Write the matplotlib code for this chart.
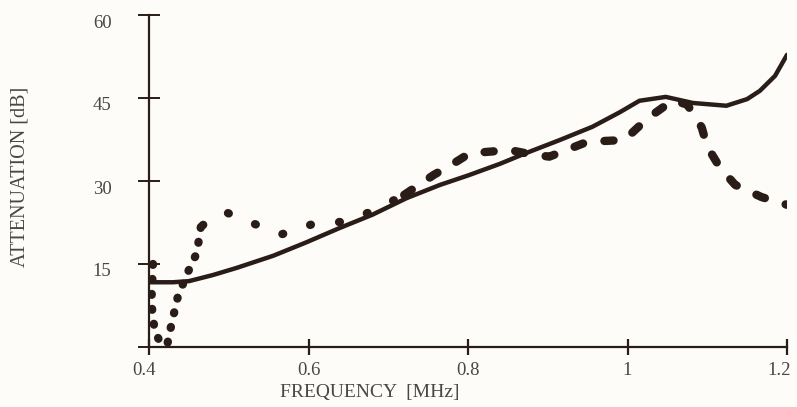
import matplotlib
matplotlib.use('Agg')
import matplotlib.pyplot as plt
import matplotlib.transforms as mtransforms

# solid curve
freq_solid = [0.40, 0.43, 0.45, 0.48, 0.51, 0.556, 0.597, 0.639, 0.68, 0.723, 0.765,
              0.80, 0.84, 0.872, 0.915, 0.956, 0.99, 1.015, 1.048, 1.082, 1.124,
              1.15, 1.166, 1.185, 1.20]
att_solid = [11.7, 11.7, 11.9, 13.0, 14.3, 16.5, 18.9, 21.5, 23.9, 26.9, 29.3,
             31.0, 33.1, 35.0, 37.4, 39.8, 42.4, 44.5, 45.2, 44.1, 43.6,
             44.8, 46.3, 49.0, 52.8]

# dashed curve, in three stretches drawn with different dash spacing
freq_dash_a = [0.405, 0.403, 0.407, 0.415, 0.423, 0.428, 0.436, 0.447, 0.460, 0.465]
att_dash_a = [15.0, 8.0, 3.0, 0.5, 0.5, 4.0, 9.0, 13.0, 17.0, 21.7]

freq_dash_b = [0.465, 0.480, 0.499, 0.533, 0.567, 0.605, 0.640, 0.680, 0.720]
att_dash_b = [21.7, 23.6, 24.2, 22.2, 20.4, 22.2, 22.6, 24.5, 27.5]

freq_dash_c = [0.720, 0.757, 0.780, 0.802, 0.852, 0.880, 0.902, 0.950, 0.996,
               1.025, 1.057, 1.075, 1.093, 1.100, 1.116, 1.135, 1.168, 1.200]
att_dash_c = [27.5, 31.1, 33.0, 35.0, 35.6, 34.8, 34.4, 37.1, 37.4,
              41.3, 44.6, 43.8, 39.7, 36.2, 32.4, 29.3, 27.1, 25.7]

x_ticks = [0.4, 0.6, 0.8, 1.0, 1.2]
x_labels = ['0.4', '0.6', '0.8', '1', '1.2']
y_ticks = [0, 15, 30, 45, 60]
y_labels = ['', '15', '30', '45', '60']

ink = '#2a1c17'
txt = '#4a4646'
bg = '#fdfcf8'

plt.rcParams['font.family'] = ['Liberation Serif', 'DejaVu Serif']

fig = plt.figure(figsize=(7.97, 4.07), dpi=100, facecolor=bg)
ax = fig.add_axes([149 / 797, 60 / 407, 638 / 797, 332 / 407])
ax.set_facecolor(bg)

ax.plot(freq_solid, att_solid, color=ink, lw=3.2, solid_capstyle='round')
ax.plot(freq_dash_a, att_dash_a, color=ink, lw=6.0, linestyle=(0, (0.1, 1.7)),
        dash_capstyle='round')
ax.plot(freq_dash_b, att_dash_b, color=ink, lw=6.0, linestyle=(3.22, (0.1, 3.4)),
        dash_capstyle='round')
ax.plot(freq_dash_c, att_dash_c, color=ink, lw=6.0, linestyle=(0, (1.1, 2.6)),
        dash_capstyle='round')

ax.set_xlim(0.4, 1.2)
ax.set_ylim(0, 60)
for s in ['top', 'right']:
    ax.spines[s].set_visible(False)
for s in ['left', 'bottom']:
    ax.spines[s].set_color(ink)
    ax.spines[s].set_linewidth(1.6)

ax.set_xticks(x_ticks)
ax.set_xticklabels(x_labels)
ax.set_yticks(y_ticks)
ax.set_yticklabels(y_labels)
ax.tick_params(axis='y', direction='inout', length=16, width=1.4, color=ink,
               labelsize=13.5, labelcolor=txt, pad=19)
ax.tick_params(axis='x', direction='inout', length=12, width=1.6, color=ink,
               labelsize=13.5, labelcolor=txt, pad=5)

shift = mtransforms.ScaledTranslation(0, -6 / 100, fig.dpi_scale_trans)
for lab in ax.get_yticklabels():
    lab.set_transform(lab.get_transform() + shift)
xlabs = ax.get_xticklabels()
xlabs[0].set_transform(xlabs[0].get_transform()
                       + mtransforms.ScaledTranslation(-5 / 100, 0, fig.dpi_scale_trans))
xlabs[-1].set_transform(xlabs[-1].get_transform()
                        + mtransforms.ScaledTranslation(-8 / 100, 0, fig.dpi_scale_trans))

fig.text(370 / 797, 1 - 392 / 407, 'FREQUENCY  [MHz]', ha='center', va='center',
         fontsize=14, color=txt)
fig.text(20 / 797, 1 - 177 / 407, 'ATTENUATION [dB]', ha='center', va='center',
         rotation=90, fontsize=14.5, color=txt)

fig.savefig('out.png', dpi=100, facecolor=bg)
plt.close(fig)
